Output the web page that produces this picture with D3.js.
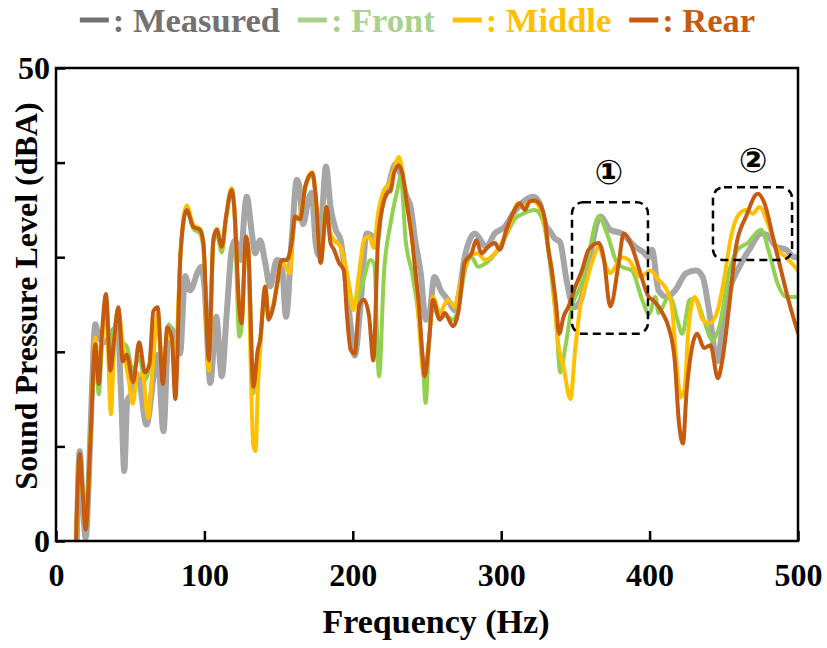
<!DOCTYPE html>
<html>
<head>
<meta charset="utf-8">
<script src="https://cdn.jsdelivr.net/npm/d3@7"></script>
<style>
  html, body { margin: 0; padding: 0; background: #ffffff; }
  svg { display: block; }
  text { font-family: "Liberation Serif", "Times New Roman", serif; font-weight: bold; }
</style>
</head>
<body>
<script>
// ---------------- DATA (frequency Hz, sound pressure level dBA) ----------------
const measured = [
[14,0],[16,9.5],[18,4],[20,0.3],[22,6],[24,15],[26.5,22.9],[29,21.5],[33,21],[38,22.2],[41.5,22.6],[44,15],[46,7.4],[48,14.8],[50.6,15.5],[55,17.6],[61,12.3],[66,17.6],[68.5,19.7],[72.4,11.6],[76,22.6],[80,21.8],[83.6,19.8],[87,28],[90.3,26.5],[96,28.6],[98,29],[100,27],[104,16.7],[108,23.7],[111.7,17.4],[115,24],[118.4,30.8],[120.7,31.8],[124,29.7],[128.5,36.4],[132,32.5],[134.2,30.4],[137.5,31.8],[141,29.4],[144.3,26.9],[148.8,29.7],[152,29.4],[155,23.7],[159,32.2],[162.3,38.2],[164,37.5],[166.5,33.5],[170,36],[172.3,36.8],[175,31.5],[177,30.2],[179.5,35],[181.9,39.6],[185,35.3],[188.5,32.9],[191.8,31.8],[196,26.5],[198.5,22.8],[201.3,19.6],[205.3,25.1],[209.3,32.5],[213.2,32.2],[215.5,31.1],[219.2,35.3],[223.3,37.1],[229,39.9],[232,38.9],[236,36.5],[239,35.3],[242,31.8],[245.8,28.3],[249.1,23.4],[251.4,23.8],[255,27.9],[259.6,26.4],[264,25.5],[268.7,24.4],[272,26.5],[275.4,30],[282.2,32.5],[290,31.1],[295.6,32.5],[302.4,33.2],[308,34.6],[312.5,35.5],[316,36],[321.5,36.4],[326,35.7],[329.4,33.6],[333,32.7],[336,32],[339.6,31.6],[344,27.6],[349,24.7],[353.7,25.5],[359,29.5],[366.8,34.3],[373.5,32.9],[381.4,32.5],[390.4,31.1],[396,30.5],[399.4,30],[401.6,30.8],[406,26.5],[411.7,25.8],[417.3,26.5],[424.5,28.3],[431.3,28.6],[435.8,27.9],[440.3,24.1],[445.5,19],[449.3,22.7],[453.8,26.5],[460.5,29],[467.2,30.8],[475.1,32.5],[479.6,32.3],[485.2,31.1],[492,30.8],[497.6,30],[500,30]
];
const front = [
[13.5,0],[16,9],[18,5],[20,1.5],[23,10],[26.5,21],[28.8,15.5],[31,21],[33.7,25.5],[36.6,20],[39,22],[42,24.5],[45,21],[47.6,20.6],[52,18],[56,19.5],[60,17],[63,18.5],[65.6,22],[68.5,23],[72,18],[76,22.9],[78.6,21],[80.4,17],[84,30.5],[88,35],[92.6,33],[97,32.5],[99.3,31],[103,18.5],[106,31.5],[108.3,32.5],[111.7,30.5],[114.6,34],[118.4,37.3],[120,35.5],[123.6,21.6],[125,22.5],[128,31.5],[129.5,31],[133,15.6],[136,20],[137.5,21],[141,26.5],[143.2,24],[146.5,25],[148.8,27],[152,29.5],[155.5,29.7],[159,31.5],[161,34],[164.5,34],[168,37.3],[172.7,38.7],[175,36.3],[178.3,29.5],[181.7,35.3],[185,32],[187.3,31.8],[191.8,31.1],[196,28.3],[200.8,24.8],[203,25.5],[206.4,27.2],[212,29.7],[214.5,29.2],[217.7,17.4],[221,28.3],[225.5,33.6],[230,37.1],[232.3,38.5],[235.6,31.8],[240,28.3],[243.5,24.8],[247,19.5],[249.1,14.6],[251.4,21],[254,24.8],[258.6,23.5],[262,23.8],[267.6,23.4],[271,24.5],[275.4,28.5],[280,30],[284.4,29],[290,29.4],[298,30.8],[304,32.5],[309,34],[314.7,34.6],[322.6,35],[328,33.9],[331.6,31],[334.2,27.5],[337,23.4],[339.8,17.8],[343.2,20.5],[347.7,24.8],[353.3,26.9],[359,30.4],[365.7,34.3],[371.3,32.5],[378,29.4],[381,29],[388,28.6],[395,25.5],[399.6,24],[403.9,25.8],[406,24.1],[412.9,25.8],[415,25.5],[418.5,23.5],[422,21.9],[427,25.5],[431,25.6],[435.8,23.7],[442.5,21.2],[447,22.7],[453.8,28.6],[459.4,30.8],[466.1,31.5],[475.1,32.9],[480.7,30.4],[486.3,27.2],[492,25.8],[500,25.8]
];
const middle = [
[13.5,0],[16,9],[18,5],[20,1.5],[23,10],[26.5,21.5],[28.8,18],[31,21],[33.7,25],[37,13.4],[39,20],[41.6,24.3],[46,19.7],[49,17],[51.7,14.5],[55,17.6],[58.5,17.6],[62,13],[65.2,18.5],[68.5,24],[72,17],[75,21.9],[78.6,20.8],[80.4,19.5],[84,30.7],[88,35.5],[92.6,33.4],[97,33],[99.3,31.5],[103,18],[106,31.8],[108.3,33],[111.7,31],[114.6,34.3],[118.4,37.3],[120,35.5],[123.6,24],[125,23],[128,32],[129.5,31],[131,20],[133,10],[134.5,9.5],[136,16],[137.5,20],[141,26.9],[143.2,24],[146.5,25],[148.8,27],[152,29.5],[155.5,28.8],[157.7,28.3],[159,31.5],[161,34],[164.5,34.5],[168,37.5],[172.7,39],[175,36.5],[178.3,29.4],[182,34.6],[185,32.5],[187.3,31.8],[191.8,31.1],[196,28.3],[200.4,24.4],[204.2,28.3],[207.5,31.8],[211,32.2],[214,31],[217,34.6],[221,37.1],[224.5,37.8],[228,39.5],[231,40.6],[233.5,39],[236.8,35.3],[240,31.8],[242.3,28.3],[244.6,23],[248,17.4],[251.4,21.2],[254,25.8],[258.6,24.1],[264,25.5],[268.7,24.8],[273,27.6],[280,30.3],[284.4,30.4],[289,29.7],[295.6,30.4],[304.6,32.9],[311.4,35.7],[315,35.4],[320.4,36],[327,35],[331.6,31.1],[334,28.7],[338.7,20.5],[342,18.4],[346.6,15],[350,20.5],[353.3,24.8],[357.8,27.6],[362.3,30],[365.7,31.1],[369.5,29.5],[373.5,28.3],[377,29],[381.4,30],[386,29.7],[393.8,27.9],[400.5,28.6],[406,27.6],[411.7,26.5],[415,24.8],[418,19],[421,15.2],[423.5,16],[426,22],[430.2,25.8],[435.8,23.4],[440.3,23],[445.9,24.4],[450.4,27.9],[454.9,32.2],[460.5,34.6],[465,35],[469.5,34.6],[474,35.3],[479.6,33.6],[485.2,31.1],[492,30],[500,28.6]
];
const rear = [
[13.5,0],[16,9.2],[18,5],[20,1.2],[23,10],[26.5,20.8],[28.8,16.6],[31,22],[33.7,26.1],[36.6,18],[39,21],[42,24.7],[45,19],[47.6,19.7],[52,16.8],[56,21],[60,17.8],[63,18.7],[65.6,24.3],[68.5,24.7],[72,16.6],[75,22.6],[78,21.5],[80.4,15],[84,30.7],[88,35],[92.6,33.2],[97,32.9],[99.3,31.5],[103,19.1],[106,31.8],[108.3,32.9],[111.7,31.1],[114.6,34.3],[118.4,37.1],[120,35.5],[123.6,24.4],[125,23],[128,32.2],[129.5,31],[133,16.3],[136,20.2],[137.5,21.2],[141,26.9],[143.2,23.4],[146.5,24.8],[148.8,26.9],[152,29.7],[155.5,29.7],[159,31.8],[161,34.3],[164.5,34],[168,37.5],[172.7,38.9],[175,36.5],[178.3,29.4],[182.4,35.3],[185,31.5],[187.3,30.8],[190.7,29.4],[194,28.6],[196,24],[198.6,20.2],[201.3,19.8],[204.2,24.8],[207.5,25.5],[211,23.7],[213.8,19.1],[217,31.8],[220,35.3],[223.3,36.8],[225.5,37],[227.8,38.9],[231,39.7],[233.3,38.9],[236.8,35.3],[240,31.8],[242.3,28.3],[244.6,24.8],[247,19.5],[248.4,17.4],[251.4,21.2],[254,25.5],[258.6,23.4],[262,24.1],[267.6,22.7],[271,24.1],[275.4,29.4],[280,30.4],[283.3,31.8],[286.7,30.4],[291.2,31.1],[295.6,31.5],[299,30.8],[303.5,32.9],[309,35],[312.5,35.7],[316,35],[319.2,35.9],[322.6,36],[327,35.3],[329.8,33.6],[331.6,31],[334.2,28.5],[337,25],[339,21.9],[342,23.7],[345.4,24.8],[350,26.9],[354.4,28.6],[358.9,30.8],[365.7,31.5],[369,30],[373.5,24.8],[379.2,29.4],[382.5,32.5],[388.1,31.1],[393.8,28.3],[399.4,25.8],[402,25.5],[409,24],[413,22.5],[417,19],[419.5,13],[422.5,10.3],[425,16],[432,21.9],[436.7,20.4],[441,20.7],[446,17.2],[449,19.1],[453.8,25.1],[458.2,31.1],[465,34.3],[472.9,36.7],[477.4,35.7],[483,32.2],[488.6,28.6],[494.2,25.1],[500,22]
];

const seriesNames  = ["Measured", "Front", "Middle", "Rear"];
const seriesData   = [measured, front, middle, rear];
const lineColors   = ["#a6a6a6", "#92d050", "#ffc000", "#c55a11"];
const legendColors = ["#767171", "#a9d18e", "#ffc000", "#c55a11"];
const lineWidths   = [6, 4, 4, 4];

const xTicks = [0, 100, 200, 300, 400, 500];
const yTicks = [0, 10, 20, 30, 40, 50];
const yTickLabels = {0: "0", 50: "50"};

// annotation boxes (data units)
const boxLabels = ["\u2460", "\u2461"];
const boxF0 = [347.7, 442.7];
const boxF1 = [398.9, 496];
const boxV0 = [21.9, 29.7];
const boxV1 = [35.8, 37.4];
const boxLabelF = [372.6, 469.7];
const boxLabelV = [39.0, 40.3];

// ---------------- CHART ----------------
const W = 827, H = 648;
const margin = {left: 56, right: 29, top: 68, bottom: 107};
const svg = d3.select("body").append("svg").attr("width", W).attr("height", H);

const x = d3.scaleLinear().domain([0, 500]).range([margin.left, W - margin.right]);
const y = d3.scaleLinear().domain([0, 50]).range([H - margin.bottom, margin.top]);

svg.append("defs").append("clipPath").attr("id", "clip")
  .append("rect").attr("x", x(0)).attr("y", y(50)).attr("width", x(500) - x(0)).attr("height", y(0) - y(50));

const line = d3.line().x(d => x(d[0])).y(d => y(d[1])).curve(d3.curveMonotoneX);

const g = svg.append("g").attr("clip-path", "url(#clip)");
seriesData.forEach((s, i) => {
  g.append("path").datum(s)
    .attr("d", line)
    .attr("fill", "none")
    .attr("stroke", lineColors[i])
    .attr("stroke-width", lineWidths[i])
    .attr("stroke-linejoin", "round")
    .attr("stroke-linecap", "round");
});

// frame
svg.append("rect")
  .attr("x", x(0)).attr("y", y(50))
  .attr("width", x(500) - x(0)).attr("height", y(0) - y(50))
  .attr("fill", "none").attr("stroke", "#000").attr("stroke-width", 2.5);

// x axis
const xAxis = d3.axisBottom(x).tickValues(xTicks).tickSizeInner(-10).tickSizeOuter(0).tickPadding(22);
const xg = svg.append("g").attr("transform", `translate(0,${y(0)})`).call(xAxis);
xg.select(".domain").remove();
xg.selectAll(".tick line").attr("stroke", "#000").attr("stroke-width", 2.5);
xg.selectAll(".tick text").attr("font-size", 32).attr("fill", "#000")
  .style("font-family", '"Liberation Serif", "Times New Roman", serif').style("font-weight", "bold");

// y axis
const yAxis = d3.axisLeft(y).tickValues(yTicks).tickSizeInner(-9).tickSizeOuter(0)
  .tickFormat(d => yTickLabels[d] || "").tickPadding(6);
const yg = svg.append("g").attr("transform", `translate(${x(0)},0)`).call(yAxis);
yg.select(".domain").remove();
yg.selectAll(".tick line").attr("stroke", "#000").attr("stroke-width", 2.5);
yg.selectAll(".tick text").attr("font-size", 32).attr("fill", "#000")
  .style("font-family", '"Liberation Serif", "Times New Roman", serif').style("font-weight", "bold");

// axis titles
svg.append("text").attr("x", 436).attr("y", 633).attr("text-anchor", "middle")
  .attr("font-size", 34).attr("fill", "#000").text("Frequency (Hz)");
svg.append("text").attr("transform", `translate(37,296) rotate(-90)`)
  .attr("text-anchor", "middle").attr("font-size", 32).attr("fill", "#000")
  .text("Sound Pressure Level (dBA)");

// annotation boxes
boxLabels.forEach((lab, i) => {
  svg.append("rect")
    .attr("x", x(boxF0[i])).attr("y", y(boxV1[i]))
    .attr("width", x(boxF1[i]) - x(boxF0[i])).attr("height", y(boxV0[i]) - y(boxV1[i]))
    .attr("rx", 11).attr("ry", 11)
    .attr("fill", "none").attr("stroke", "#000").attr("stroke-width", 2.5)
    .attr("stroke-dasharray", "8,5");
  svg.append("text").attr("x", x(boxLabelF[i])).attr("y", y(boxLabelV[i]))
    .attr("text-anchor", "middle").attr("dominant-baseline", "central")
    .attr("font-size", 34).attr("fill", "#000")
    .style("font-family", '"DejaVu Sans", "Noto Sans CJK SC", sans-serif')
    .text(lab);
});

// legend
const leg = svg.append("g");
let cx = 0;
seriesNames.forEach((name, i) => {
  const it = leg.append("g").attr("transform", `translate(${cx},0)`);
  it.append("line").attr("x1", 0).attr("x2", 29).attr("y1", 20).attr("y2", 20)
    .attr("stroke", legendColors[i]).attr("stroke-width", 5);
  const t = it.append("text").attr("x", 33).attr("y", 32).attr("font-size", 34.5)
    .attr("fill", legendColors[i]).text(": " + name);
  cx += 33 + t.node().getComputedTextLength() + 18;
});
const legW = cx - 18;
leg.attr("transform", `translate(${(W - legW) / 2 + 4},0)`);
</script>
</body>
</html>
